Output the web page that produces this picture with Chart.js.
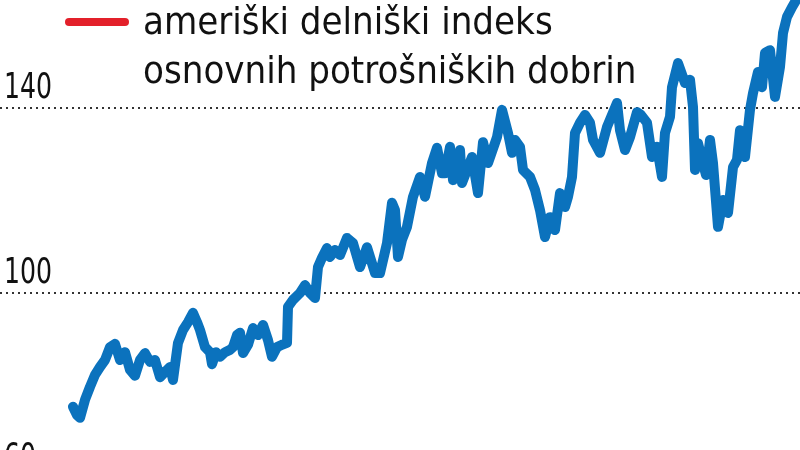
<!DOCTYPE html>
<html>
<head>
<meta charset="utf-8">
<script src="https://cdn.jsdelivr.net/npm/chart.js@4/dist/chart.umd.min.js"></script>
<style>
  html, body { margin: 0; padding: 0; background: #fff; }
  #wrap { position: relative; width: 800px; height: 450px; overflow: hidden; }
  #legend-line { position: absolute; left: 65px; top: 18px; width: 64px; height: 8px; border-radius: 4px; background: #e3202a; }
  #legend-text { position: absolute; left: 143px; top: -3px; font: 38px/49px "Liberation Sans Narrow", "DejaVu Sans Condensed", sans-serif; color: #111; white-space: nowrap; }
</style>
</head>
<body>
<div id="wrap">
  <canvas id="chart" width="800" height="450"></canvas>
  <div id="legend-line"></div>
  <div id="legend-text">ameriški delniški indeks<br>osnovnih potrošniških dobrin</div>
</div>
<script>
// tedenski indeks (teden od začetka) in vrednost indeksa
const tedni = [
  0, 4, 7, 12, 17, 22, 27, 32, 37, 42,
  47, 52, 57, 62, 67, 72, 77, 82, 87, 92,
  97, 100, 105, 110, 115, 120, 124, 127, 132, 137,
  139, 143, 147, 152, 157, 160, 164, 167, 170, 175,
  180, 185, 190, 195, 199, 204, 209, 214, 215, 220,
  227, 232, 237, 242, 245, 249, 254, 257, 262, 267,
  274, 280, 287, 294, 302, 307, 314, 319, 322, 325,
  329, 334, 340, 347, 352, 359, 364, 369, 372, 377,
  380, 387, 389, 394, 399, 405, 410, 415, 424, 429,
  435, 439, 442, 447, 450, 457, 462, 467, 472, 477,
  482, 487, 492, 495, 499, 502, 507, 512, 517, 520,
  527, 534, 539, 544, 547, 552, 557, 564, 568, 574,
  579, 584, 589, 592, 597, 599, 605, 612, 617, 620,
  622, 625, 629, 633, 637, 640, 645, 650, 655, 660,
  664, 667, 672, 677, 680, 685, 689, 692, 697, 702,
  707, 710, 714, 719, 725
]

const indeks = [
  75.4, 73.6, 73.0, 76.9, 79.7, 82.3, 84.0, 85.5, 88.3, 89.0,
  85.5, 87.2, 83.4, 82.1, 85.5, 87.0, 85.1, 85.5, 81.8, 82.9,
  84.0, 81.2, 89.2, 92.0, 93.7, 95.7, 93.7, 92.0, 88.3, 87.2,
  84.6, 87.2, 86.2, 87.2, 87.7, 88.3, 90.9, 91.4, 87.0, 88.8,
  92.4, 90.9, 93.1, 89.8, 86.2, 88.3, 88.8, 89.2, 97.0, 98.5,
  100.0, 101.7, 100.0, 98.9, 105.6, 107.6, 109.7, 107.8, 109.3, 108.2,
  111.9, 110.8, 105.6, 109.9, 104.3, 104.3, 110.8, 119.5, 117.9, 107.8,
  111.5, 114.3, 120.8, 125.1, 120.8, 128.1, 131.4, 125.9, 125.9, 131.6,
  124.4, 130.9, 123.8, 126.6, 129.4, 121.6, 132.6, 128.1, 133.7, 139.6,
  134.6, 130.3, 133.1, 131.6, 126.6, 125.1, 122.3, 117.9, 112.1, 116.4,
  113.6, 121.6, 118.6, 120.8, 125.1, 134.6, 136.8, 138.5, 136.8, 133.1,
  130.3, 135.9, 138.5, 141.1, 135.2, 130.9, 133.7, 139.1, 138.5, 136.8,
  129.4, 131.6, 125.1, 134.6, 138.1, 144.5, 149.7, 145.4, 146.1, 140.2,
  126.6, 132.4, 128.8, 125.5, 133.1, 128.1, 114.3, 120.1, 117.3, 127.2,
  128.8, 135.2, 129.4, 139.6, 143.2, 147.8, 144.5, 151.9, 152.5, 142.4,
  148.9, 156.2, 159.7, 161.8, 164.0
]

const yTicks = [60, 100, 140]

// oznake osi y nad pikčasto črto, levo poravnane (ozke številke)
const yLabels = {
  id: "yLabels",
  afterDraw(chart) {
    const { ctx, scales: { y } } = chart
    ctx.save()
    ctx.font = '35px "Liberation Sans Narrow", "DejaVu Sans Condensed", sans-serif'
    ctx.fillStyle = "#111"
    ctx.textAlign = "left"
    ctx.textBaseline = "alphabetic"
    yTicks.forEach(v => {
      ctx.save()
      ctx.translate(4, y.getPixelForValue(v) - 10)
      ctx.scale(0.8, 1)
      ctx.fillText(String(v), 0, 0)
      ctx.restore()
    })
    ctx.restore()
  }
}

new Chart(document.getElementById("chart"), {
  type: "line",
  data: {
    datasets: [{
      data: tedni.map((t, i) => ({ x: t, y: indeks[i] })),
      borderColor: "#0b72bd",
      borderWidth: 10,
      borderJoinStyle: "round",
      borderCapStyle: "round",
      pointRadius: 0,
      tension: 0,
      clip: false
    }]
  },
  options: {
    responsive: false,
    animation: false,
    layout: { padding: 0 },
    scales: {
      x: {
        type: "linear",
        display: false,
        min: -73,
        max: 727
      },
      y: {
        min: 66.05,
        max: 163.35,
        afterBuildTicks: scale => { scale.ticks = yTicks.map(v => ({ value: v })) },
        ticks: { display: false },
        border: { display: false, dash: [2, 4] },
        grid: { drawTicks: false, color: "#333", lineWidth: 2 }
      }
    },
    plugins: {
      legend: { display: false },
      tooltip: { enabled: false }
    }
  },
  plugins: [yLabels]
})
</script>
</body>
</html>
